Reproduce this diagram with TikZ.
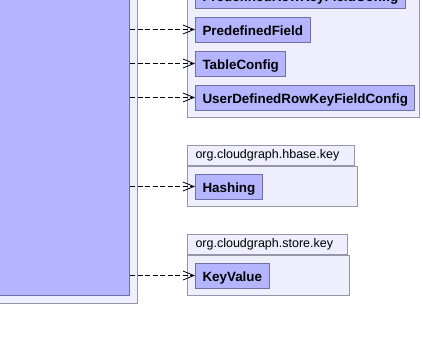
\documentclass[tikz,border=0pt]{standalone}
\usepackage{fontspec}
\setsansfont{Liberation Sans}
\usetikzlibrary{arrows.meta}

\definecolor{clsfill}{RGB}{180,180,255}
\definecolor{clsline}{RGB}{112,112,168}
\definecolor{pkgfill}{RGB}{238,238,252}
\definecolor{pkgline}{RGB}{150,150,170}

\tikzset{
  classbox/.style={draw=clsline, fill=clsfill, line width=1pt, anchor=west,
    minimum height=25pt, inner xsep=7pt, inner ysep=0pt,
    text height=11pt, text depth=0pt,
    font=\sffamily\bfseries\fontsize{13.4}{15}\selectfont},
  pkgbody/.style={draw=pkgline, fill=pkgfill, line width=1pt},
  pkgtab/.style={draw=pkgline, fill=pkgfill, line width=1pt, anchor=south west,
    minimum height=20pt, inner xsep=8pt, inner ysep=0pt, align=left,
    font=\sffamily\fontsize{12.5}{14}\selectfont},
  dep/.style={draw=black, line width=0.8pt, dash pattern=on 5pt off 2.5pt,
    -{Straight Barb[length=11pt,width=9pt,line width=0.8pt]}}
}

\begin{document}
\begin{tikzpicture}[x=1pt,y=-1pt]
  \useasboundingbox (0,0) rectangle (423,341);
  \clip (0,0) rectangle (423,341);

  % package on the left with the using class
  \draw[pkgbody] (-10,-10) rectangle (137,303);
  \node[draw=clsline, fill=clsfill, line width=1pt, minimum width=139pt,
    minimum height=305pt, anchor=north west] (src) at (-10,-10) {};

  % org.cloudgraph.config (tab above the page)
  \draw[pkgbody] (187,-20) rectangle (419,117);
  \node[classbox] (rkf) at (195,-4.5) {PredefinedRowKeyFieldConfig};
  \node[classbox] (pf) at (195,29.5) {PredefinedField};
  \node[classbox] (tc) at (195,63.5) {TableConfig};
  \node[classbox] (udf) at (195,97.5) {UserDefinedRowKeyFieldConfig};

  % org.cloudgraph.hbase.key
  \node[pkgtab, text width=151pt] (hbtab) at (187,166) {org.cloudgraph.hbase.key};
  \draw[pkgbody] (187,166) rectangle (357,206);
  \node[classbox] (hash) at (195,186.5) {Hashing};

  % org.cloudgraph.store.key
  \node[pkgtab, text width=144pt] (sttab) at (187,255) {org.cloudgraph.store.key};
  \draw[pkgbody] (187,255) rectangle (349,295);
  \node[classbox] (kv) at (195,275.5) {KeyValue};

  % dependencies
  \foreach \t in {pf,tc,udf,hash,kv}
    \draw[dep] (src.east |- \t.west) -- (\t.west);
\end{tikzpicture}
\end{document}
